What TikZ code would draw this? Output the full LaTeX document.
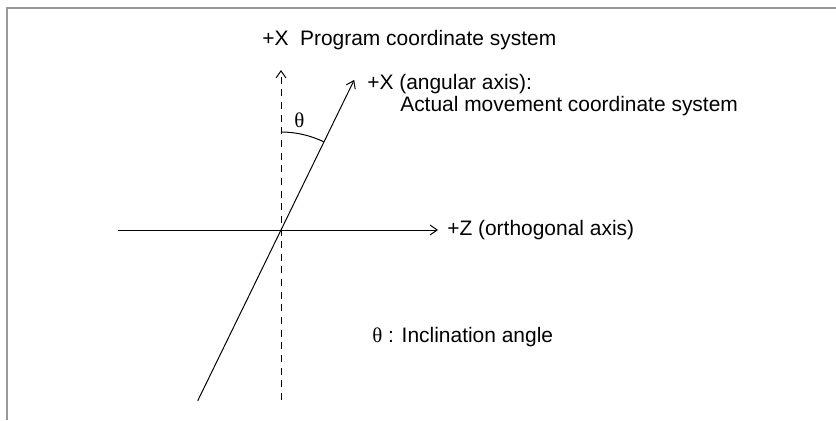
\documentclass[tikz,border=0pt]{standalone}
\usepackage{fontspec}
\setmainfont{Liberation Sans}
\newfontfamily\greekserif{Liberation Serif}
\usetikzlibrary{arrows.meta, calc}

\tikzset{
  axisline/.style={line width=0.7pt, -{Straight Barb[length=5pt,width=7pt]}},
  label/.style={anchor=west, inner sep=0pt, font=\fontsize{14.9}{18}\selectfont},
}

\begin{document}
\begin{tikzpicture}
    \useasboundingbox (0, 0) rectangle (20.9, 10.5);

    % Frame (top and left edges)
    \draw[black!40, line width=1.4pt] (20.9, 10.3) -- (0.175, 10.3) -- (0.175, 0);

    % Origin and axis ends
    \coordinate (O) at (7.025, 4.75);
    \coordinate (progTop) at (7.025, 8.75);
    \coordinate (progBot) at (7.025, 0.5);
    \coordinate (zLeft) at (2.95, 4.75);
    \coordinate (zRight) at (10.95, 4.75);
    \coordinate (angTop) at ($(O) + (64:4.175)$);
    \coordinate (angBot) at ($(O) + (244:4.75)$);

    % Program coordinate system (dashed)
    \draw[axisline, dash pattern=on 5pt off 4pt] (progBot) -- (progTop);

    % Orthogonal axis
    \draw[axisline] (zLeft) -- (zRight);

    % Angular axis
    \draw[axisline] (angBot) -- (angTop);

    % Inclination angle
    \draw[line width=0.7pt] ($(O) + (90:2.45)$) arc (90:64:2.45);
    \node[label] (theta) at (7.35, 7.5) {\greekserif θ};

    % Labels
    \node[label] (progLbl) at (6.55, 9.5) {+X\ \ Program coordinate system};
    \node[label] (angLbl) at (9.175, 8.4) {+X (angular axis):};
    \node[label] (angLbl2) at (10.0, 7.85) {Actual movement coordinate system};
    \node[label] (zLbl) at (11.175, 4.75) {+Z (orthogonal axis)};
    \node[label] (note) at (9.3, 2.075) {{\greekserif θ} : Inclination angle};
\end{tikzpicture}
\end{document}
